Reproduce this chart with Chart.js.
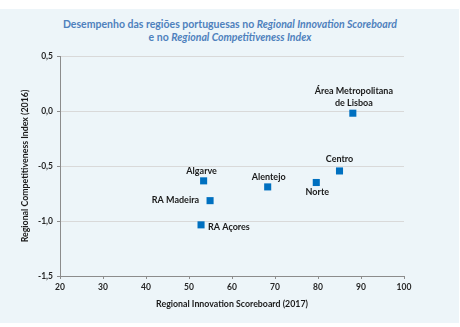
<!DOCTYPE html>
<html>
<head>
<meta charset="utf-8">
<script src="https://cdn.jsdelivr.net/npm/chart.js@4"></script>
<style>
  body { margin: 0; background: #ffffff; }
  #panel { position: absolute; left: 0; top: 9px; width: 459px; height: 314px; background: #edf5f9; }
  #title {
    position: absolute; left: 0; top: 18px; width: 460px; text-align: center;
    font-family: Lato, "Open Sans", sans-serif; font-weight: bold; font-size: 10.5px;
    line-height: 12.5px; color: #4f81bd;
  }
  #wrap { position: absolute; left: 0; top: 0; width: 460px; height: 327px; }
</style>
</head>
<body>
<div id="panel"></div>
<div id="title">Desempenho das regiões portuguesas no <i>Regional Innovation Scoreboard</i><br>e no <i>Regional Competitiveness Index</i></div>
<div id="wrap"><canvas id="chart" width="460" height="327"></canvas></div>
<script>
// regions and their scores
let regions = ["Área Metropolitana de Lisboa", "Centro", "Norte", "Alentejo", "Algarve", "RA Madeira", "RA Açores"];
let risScores = [88.1, 85.0, 79.6, 68.3, 53.4, 54.9, 52.8];
let rciScores = [-0.02, -0.545, -0.65, -0.69, -0.635, -0.815, -1.035];

let xTicks = [20, 30, 40, 50, 60, 70, 80, 90, 100];
let yTicks = [-1.5, -1.0, -0.5, 0.0, 0.5];

// where each name sits around its marker
const labelPlacement = {
  "Área Metropolitana de Lisboa": { lines: ["Área Metropolitana", "de Lisboa"], dx: 1, dy: -22, align: "center" },
  "Centro": { dx: 0, dy: -12, align: "center" },
  "Norte": { dx: 1, dy: 10, align: "center" },
  "Alentejo": { dx: 1, dy: -9.5, align: "center" },
  "Algarve": { dx: -2, dy: -10, align: "center" },
  "RA Madeira": { dx: -11, dy: -0.5, align: "right" },
  "RA Açores": { dx: 7, dy: 2, align: "left" },
};

const pointLabels = {
  id: "pointLabels",
  afterDatasetsDraw(chart) {
    const ctx = chart.ctx;
    const meta = chart.getDatasetMeta(0);
    ctx.save();
    ctx.font = "bold 9px Lato, 'Open Sans', sans-serif";
    ctx.fillStyle = "#1a1a1a";
    ctx.textBaseline = "middle";
    meta.data.forEach((pt, i) => {
      let p = labelPlacement[regions[i]];
      let lines = p.lines || [regions[i]];
      ctx.textAlign = p.align;
      lines.forEach((line, j) => {
        ctx.fillText(line, pt.x + p.dx, pt.y + p.dy + j * 12);
      });
    });
    ctx.restore();
  },
};

const fmt = (v) => v.toFixed(1).replace(".", ",");
const font = "Lato, 'Open Sans', sans-serif";
const tickFont = { family: font, weight: "bold", size: 8.5 };

const chart = new Chart(document.getElementById("chart").getContext("2d"), {
  type: "scatter",
  data: {
    datasets: [
      {
        data: risScores.map((x, i) => ({ x: x, y: rciScores[i] })),
        pointStyle: "rect",
        pointRadius: 5,
        pointHoverRadius: 5,
        backgroundColor: "#0070c0",
        borderColor: "#0070c0",
        borderWidth: 0,
      },
    ],
  },
  options: {
    responsive: false,
    animation: false,
    layout: { padding: { left: 16, right: 56, top: 56, bottom: 14 } },
    plugins: {
      legend: { display: false },
      tooltip: { enabled: false },
    },
    scales: {
      x: {
        type: "linear",
        min: 20,
        max: 100,
        afterBuildTicks: (scale) => { scale.ticks = xTicks.map((v) => ({ value: v })); },
        afterFit: (scale) => { scale.height = 37; },
        border: { color: "#8c8c8c", width: 1 },
        grid: { drawOnChartArea: false, drawTicks: true, tickLength: 3, tickColor: "#8c8c8c" },
        ticks: { font: tickFont, color: "#262626", padding: 3, callback: (v) => v },
        title: {
          display: true,
          text: "Regional Innovation Scoreboard (2017)",
          font: { family: font, weight: "bold", size: 8.8 },
          color: "#1a1a1a",
          padding: { top: 4, bottom: 4 },
        },
      },
      y: {
        type: "linear",
        min: -1.5,
        max: 0.5,
        afterBuildTicks: (scale) => { scale.ticks = yTicks.map((v) => ({ value: v })); },
        afterFit: (scale) => { scale.width = 44; },
        border: { color: "#8c8c8c", width: 1 },
        grid: { color: "#d9d9d9", lineWidth: 1, tickLength: 3, tickColor: "#8c8c8c" },
        ticks: { font: tickFont, color: "#262626", padding: 4, callback: (v) => fmt(v) },
        title: {
          display: true,
          text: "Regional Competitiveness Index (2016)",
          font: { family: font, weight: "bold", size: 8.8 },
          color: "#1a1a1a",
          padding: { top: 4, bottom: 4 },
        },
      },
    },
  },
  plugins: [pointLabels],
});
</script>
</body>
</html>
